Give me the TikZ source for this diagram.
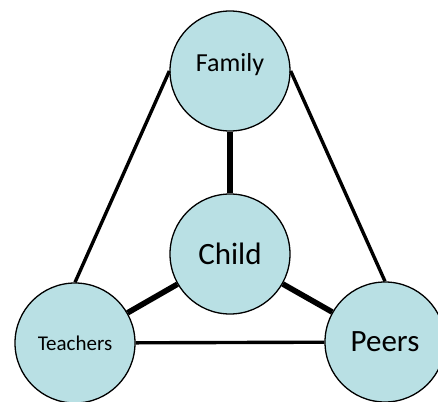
\documentclass[tikz,border=0pt]{standalone}
\usepackage{fontspec}
\setmainfont{Carlito}
\definecolor{bubble}{RGB}{185,224,228}
\begin{document}
\begin{tikzpicture}[x=1pt,y=-1pt,
  bub/.style={circle,draw=black,line width=1.3pt,fill=bubble,minimum size=120pt,inner sep=0pt},
  thinlink/.style={line width=3.4pt},
  thicklink/.style={line width=5.6pt}]
\useasboundingbox (0,0) rectangle (438,401);
\node[bub] (family) at (230,71) {};
\node[font=\fontsize{26}{30}\selectfont] (familytext) at (230,65) {Family};
\node[bub,font=\fontsize{31}{36}\selectfont] (child) at (230,254) {Child};
\node[bub,font=\fontsize{21}{25}\selectfont] (teachers) at (75,343) {Teachers};
\node[bub,font=\fontsize{31}{36}\selectfont] (peers) at (385,342) {Peers};
\draw[thicklink] (child) -- (family);
\draw[thicklink] (child) -- (teachers);
\draw[thicklink] (child) -- (peers);
\draw[thinlink] (teachers) -- (peers);
\draw[thinlink] (family.west) -- (teachers.north);
\draw[thinlink] (family.east) -- (peers.north);
\end{tikzpicture}
\end{document}
